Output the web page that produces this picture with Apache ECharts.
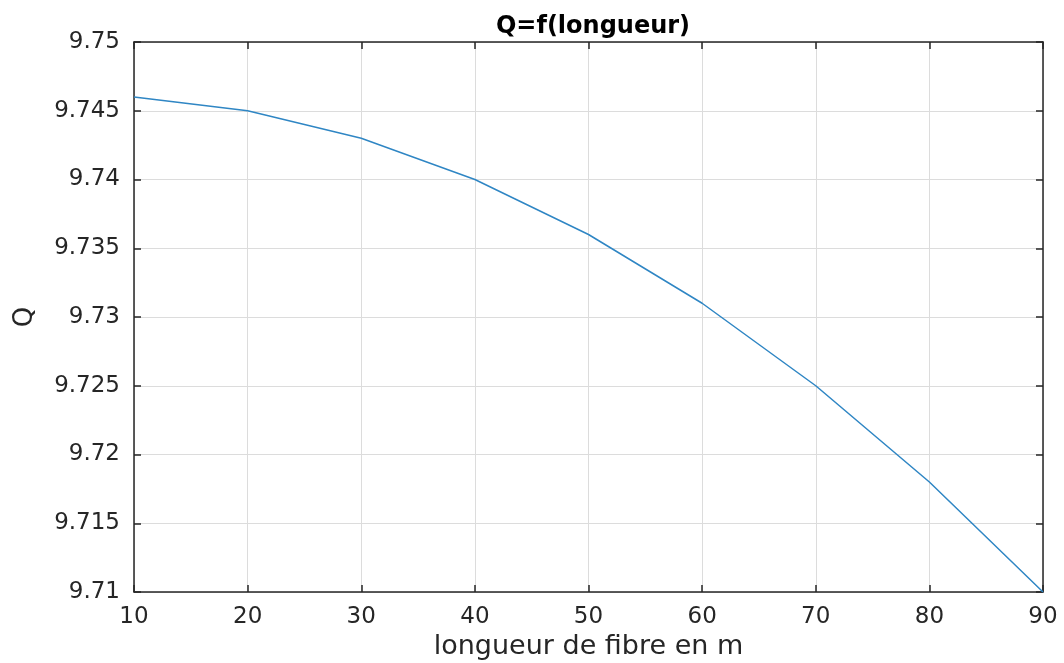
<!DOCTYPE html>
<html><head><meta charset="utf-8">
<script src="https://cdn.jsdelivr.net/npm/echarts@6/dist/echarts.min.js"></script>
<style>html,body{margin:0;padding:0;background:#fff}#c{width:1064px;height:663px}</style>
</head><body><div id="c"></div>
<script>
const lengths = [10, 20, 30, 40, 50, 60, 70, 80, 90];
const qValues = [9.746, 9.745, 9.743, 9.740, 9.736, 9.731, 9.725, 9.718, 9.710];
const yTickLabels = ['9.71','9.715','9.72','9.725','9.73','9.735','9.74','9.745','9.75'];

const chart = echarts.init(document.getElementById('c'), null, {renderer:'canvas'});
const font = 'DejaVu Sans, Liberation Sans, sans-serif';
const axisLineStyle = {color:'#262626', width:1.5};
chart.setOption({
  animation:false,
  backgroundColor:'#fff',
  title:{text:'Q=f(longueur)', left:588, top:10, textAlign:'center',
    textStyle:{fontFamily:font, fontSize:24, fontWeight:'bold', color:'#000'}},
  grid:{left:134, right:21, top:42, bottom:71, containLabel:false, outerBoundsMode:'none'},
  xAxis:[{type:'value', min:10, max:90, interval:10,
    name:'longueur de fibre en m', nameLocation:'middle', nameGap:40,
    nameTextStyle:{fontFamily:font, fontSize:27, color:'#262626'},
    axisLine:{show:true, lineStyle:axisLineStyle},
    axisTick:{show:true, inside:true, length:7, lineStyle:axisLineStyle},
    axisLabel:{fontFamily:font, fontSize:23, color:'#262626', margin:14},
    splitLine:{show:true, lineStyle:{color:'#dcdcdc', width:1}}},
   {type:'value', position:'top', min:10, max:90, interval:10,
    axisLine:{show:true, lineStyle:axisLineStyle},
    axisTick:{show:true, inside:true, length:7, lineStyle:axisLineStyle},
    axisLabel:{show:false}, splitLine:{show:false}}],
  yAxis:[{type:'value', min:9.71, max:9.75, interval:0.005,
    name:'Q', nameLocation:'middle', nameGap:96, nameRotate:90,
    nameTextStyle:{fontFamily:font, fontSize:26, color:'#262626'},
    axisLine:{show:true, lineStyle:axisLineStyle},
    axisTick:{show:true, inside:true, length:7, lineStyle:axisLineStyle},
    axisLabel:{fontFamily:font, fontSize:23, color:'#262626', margin:14,
      formatter:(v)=>{const i=Math.round((v-9.71)/0.005); return yTickLabels[i]||'';}},
    splitLine:{show:true, lineStyle:{color:'#dcdcdc', width:1}}},
   {type:'value', position:'right', min:9.71, max:9.75, interval:0.005,
    axisLine:{show:true, lineStyle:axisLineStyle},
    axisTick:{show:true, inside:true, length:7, lineStyle:axisLineStyle},
    axisLabel:{show:false}, splitLine:{show:false}}],
  series:[{type:'line', data:lengths.map((x,i)=>[x,qValues[i]]),
    showSymbol:false, lineStyle:{color:'#2f86c4', width:1.5}}]
});
</script></body></html>
